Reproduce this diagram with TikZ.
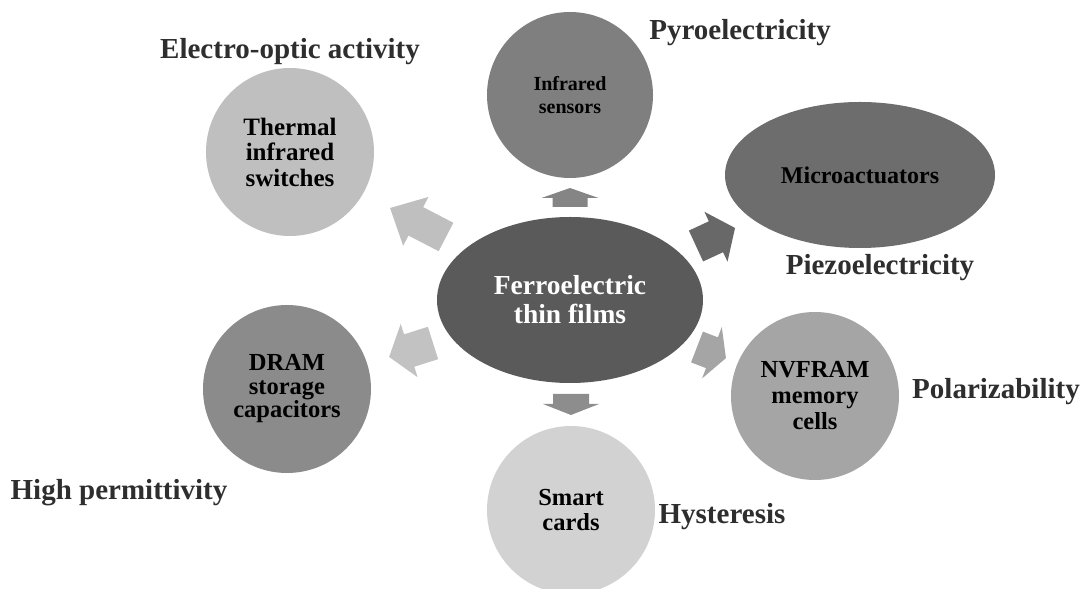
\documentclass[tikz,border=0pt]{standalone}
\usepackage{fontspec}
\setmainfont{Liberation Serif}
\usetikzlibrary{shapes.geometric}

\definecolor{hubfill}{HTML}{5A5A5A}
\definecolor{irfill}{HTML}{7F7F7F}
\definecolor{thermfill}{HTML}{BFBFBF}
\definecolor{microfill}{HTML}{6D6D6D}
\definecolor{dramfill}{HTML}{8B8B8B}
\definecolor{nvfill}{HTML}{A5A5A5}
\definecolor{smartfill}{HTML}{D2D2D2}
\definecolor{labelink}{HTML}{2E2E2E}

\tikzset{
  % block arrow: length / head length / shaft width / head width / colour
  pics/fatarrow/.style args={#1/#2/#3/#4/#5}{code={
    \fill[#5] (0,-#3/2) -- (#1-#2,-#3/2) -- (#1-#2,-#4/2) -- (#1,0)
      -- (#1-#2,#4/2) -- (#1-#2,#3/2) -- (0,#3/2) -- cycle;}},
  disc/.style={circle, inner sep=0pt, minimum size=168pt, align=center,
    font=\fontsize{24.5}{26}\selectfont\bfseries, text=black},
  hub/.style={ellipse, inner sep=0pt, fill=hubfill, minimum width=266pt,
    minimum height=166pt, align=center, text=white,
    font=\fontsize{27.5}{29}\selectfont\bfseries},
  tag/.style={inner sep=0pt, text=labelink,
    font=\fontsize{29}{32}\selectfont\bfseries}
}

\begin{document}
\begin{tikzpicture}[x=1pt, y=1pt]
\useasboundingbox (0,0) rectangle (1090,589);

% central topic
\node[hub] (core) at (570,289) {Ferroelectric\\thin films};

% applications
\node[disc, fill=irfill, minimum size=166pt,
  font=\fontsize{20}{23}\selectfont\bfseries] (ir) at (570,494) {Infrared\\sensors};
\node[disc, fill=thermfill, font=\fontsize{25}{25.5}\selectfont\bfseries]
  (therm) at (290,437) {Thermal\\infrared\\switches};
\node[ellipse, inner sep=0pt, fill=microfill, minimum width=270pt,
  minimum height=146pt, font=\fontsize{24}{26}\selectfont\bfseries]
  (micro) at (860,414) {Microactuators};
\node[disc, fill=dramfill, font=\fontsize{24.5}{23.5}\selectfont\bfseries]
  (dram) at (287,200) {DRAM\\storage\\capacitors};
\node[disc, fill=nvfill] (nv) at (815,193) {NVFRAM\\memory\\cells};
\node[disc, fill=smartfill, font=\fontsize{24.5}{25}\selectfont\bfseries]
  (smart) at (571,79) {Smart\\cards};

% properties
\node[tag] (eo) at (290,537) {Electro-optic activity};
\node[tag] (pyro) at (740,556) {Pyroelectricity};
\node[tag] (piezo) at (880,321) {Piezoelectricity};
\node[tag] (polar) at (996,197) {Polarizability};
\node[tag] (perm) at (119,96) {High permittivity};
\node[tag] (hyst) at (722,72) {Hysteresis};

% block arrows from the centre towards each application
\pic[rotate=90] at (570,382) {fatarrow=19/10/35/57/irfill!95!white};
\pic[rotate=270] at (571,195) {fatarrow=21/11/36/56/dramfill!98!white};
\pic[rotate=152.6] at (446,352) {fatarrow=63/29/32/55/thermfill};
\pic[rotate=197.6] at (433,246) {fatarrow=46/21/34/56/thermfill!95!white};
\pic[rotate=24.8] at (696,343) {fatarrow=43/21/34/55/microfill!95!black};
\pic[rotate=-21] at (697,242) {fatarrow=31/15/33/55/nvfill};
\end{tikzpicture}
\end{document}
